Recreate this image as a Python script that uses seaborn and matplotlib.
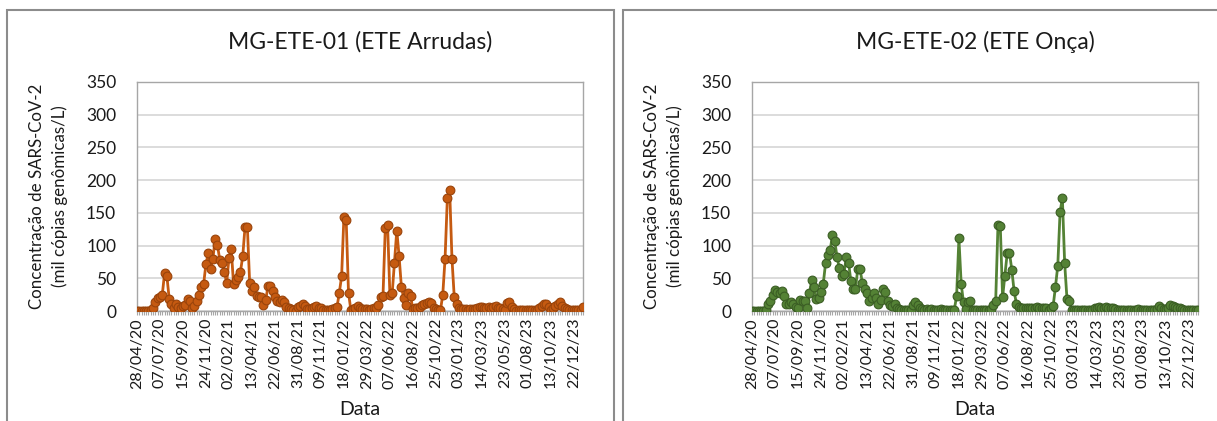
import numpy as np
import pandas as pd
import seaborn as sns
import matplotlib.pyplot as plt
from matplotlib.patches import Rectangle
from matplotlib.ticker import MultipleLocator

# weekly samples, labels shown every 10th week
tick_labels = ['28/04/20', '07/07/20', '15/09/20', '24/11/20', '02/02/21', '13/04/21',
               '22/06/21', '31/08/21', '09/11/21', '18/01/22', '29/03/22', '07/06/22',
               '16/08/22', '25/10/22', '03/01/23', '14/03/23', '23/05/23', '01/08/23',
               '13/10/23', '22/12/23']

arrudas = [0, 0, 0, 0, 0, 0, 1, 5, 13, 20, 22, 25, 58, 53, 19, 11, 5, 10, 6, 5,
           7, 9, 18, 15, 5, 7, 16, 25, 37, 42, 72, 88, 64, 80, 110, 101, 78, 74, 60, 43,
           81, 94, 41, 47, 52, 60, 84, 129, 129, 43, 30, 36, 23, 21, 22, 9, 17, 38, 38, 30,
           21, 16, 14, 17, 14, 6, 5, 3, 1, 0, 6, 8, 10, 7, 3, 3, 5, 6, 8, 5,
           5, 2, 1, 1, 2, 3, 5, 6, 28, 53, 144, 139, 28, 2, 3, 5, 8, 4, 3, 3,
           3, 2, 3, 4, 5, 9, 22, 23, 127, 131, 25, 27, 74, 123, 84, 37, 20, 9, 27, 23,
           3, 5, 4, 6, 9, 11, 12, 13, 12, 5, 3, 2, 1, 25, 80, 173, 185, 80, 21, 11,
           5, 3, 3, 3, 2, 3, 3, 3, 4, 6, 6, 5, 5, 6, 5, 6, 7, 5, 4, 3,
           2, 12, 13, 6, 3, 0, 1, 1, 1, 1, 1, 1, 1, 1, 2, 4, 8, 10, 11, 6,
           2, 5, 8, 11, 13, 8, 5, 3, 2, 1, 1, 1, 2, 2, 6]

onca = [0, 0, 0, 0, 0, 0, 2, 11, 15, 24, 32, 29, 28, 31, 23, 10, 11, 13, 11, 6,
        5, 17, 15, 16, 5, 27, 48, 36, 19, 20, 29, 42, 73, 86, 93, 116, 107, 82, 66, 54,
        57, 82, 74, 46, 33, 34, 64, 64, 43, 34, 27, 16, 20, 28, 20, 11, 17, 33, 29, 16,
        9, 8, 10, 5, 3, 2, 2, 2, 2, 2, 9, 13, 9, 4, 3, 2, 3, 2, 3, 2,
        2, 2, 3, 2, 2, 2, 1, 2, 2, 23, 111, 41, 13, 3, 13, 16, 1, 1, 1, 1,
        1, 1, 1, 2, 3, 9, 16, 132, 130, 21, 54, 88, 89, 63, 31, 11, 6, 4, 4, 5,
        4, 5, 4, 5, 6, 5, 5, 4, 5, 2, 5, 8, 37, 69, 151, 173, 73, 19, 16, 2,
        2, 2, 2, 2, 2, 2, 2, 2, 2, 4, 5, 6, 5, 4, 6, 5, 4, 5, 3, 2,
        1, 2, 1, 2, 1, 2, 1, 2, 3, 2, 1, 2, 1, 2, 1, 2, 3, 8, 4, 3,
        3, 5, 9, 7, 6, 5, 5, 3, 2, 2, 2, 2, 2, 1, 1]

titles = ['MG-ETE-01 (ETE Arrudas)', 'MG-ETE-02 (ETE Onça)']
colors = [('#C55A11', '#9A440B'), ('#548235', '#3B5E24')]

sns.set_style('white')
plt.rcParams['font.family'] = ['Lato', 'DejaVu Sans']
txt = '#1a1a1a'

W, H = 1217, 421
fig = plt.figure(figsize=(W / 100, H / 100), dpi=100)

# outer chart frames (excel chart areas)
fig.add_artist(Rectangle((7 / W, -0.05), 607 / W, 1.05 - 10 / H, transform=fig.transFigure,
                         fill=False, edgecolor='#8C8C8C', linewidth=1.5))
fig.add_artist(Rectangle((623 / W, -0.05), 0.6, 1.05 - 10 / H, transform=fig.transFigure,
                         fill=False, edgecolor='#8C8C8C', linewidth=1.5))

lefts = [137, 752]
for k, (vals, title, (fc, ec)) in enumerate(zip([arrudas, onca], titles, colors)):
    ax = fig.add_axes([lefts[k] / W, (H - 311) / H, 446 / W, 229 / H])
    df = pd.DataFrame({'idx': np.arange(len(vals)), 'val': vals})
    sns.lineplot(data=df, x='idx', y='val', ax=ax, color=fc, linewidth=2,
                 marker='o', markersize=6.3, markerfacecolor=fc, markeredgecolor=ec,
                 markeredgewidth=0.8, zorder=3)
    ax.set_xlim(0, len(vals) - 1)
    ax.set_ylim(0, 350)
    ax.yaxis.set_major_locator(MultipleLocator(50))
    ax.grid(axis='y', color='#D9D9D9', linewidth=1.3)
    ax.set_xticks(np.arange(0, len(vals), 10))
    ax.set_xticklabels(tick_labels, rotation=90, fontsize=11.5, color=txt)
    ax.xaxis.set_minor_locator(MultipleLocator(1))
    ax.tick_params(axis='x', which='both', direction='out', length=3, width=0.8,
                   color='#A6A6A6', bottom=True, pad=2)
    ax.tick_params(axis='y', length=0, labelsize=12.5, labelcolor=txt, pad=15)
    for s in ax.spines.values():
        s.set_color('#A6A6A6')
        s.set_linewidth(1)
    ax.set_title(title, fontsize=16.5, color=txt, pad=24)
    ax.set_xlabel('Data', fontsize=14, color=txt, labelpad=9)
    ax.set_ylabel('Concentração de SARS-CoV-2\n(mil cópias genômicas/L)',
                  fontsize=12.2, color=txt, labelpad=13, linespacing=1.45)

fig.savefig('out.png', dpi=100)
